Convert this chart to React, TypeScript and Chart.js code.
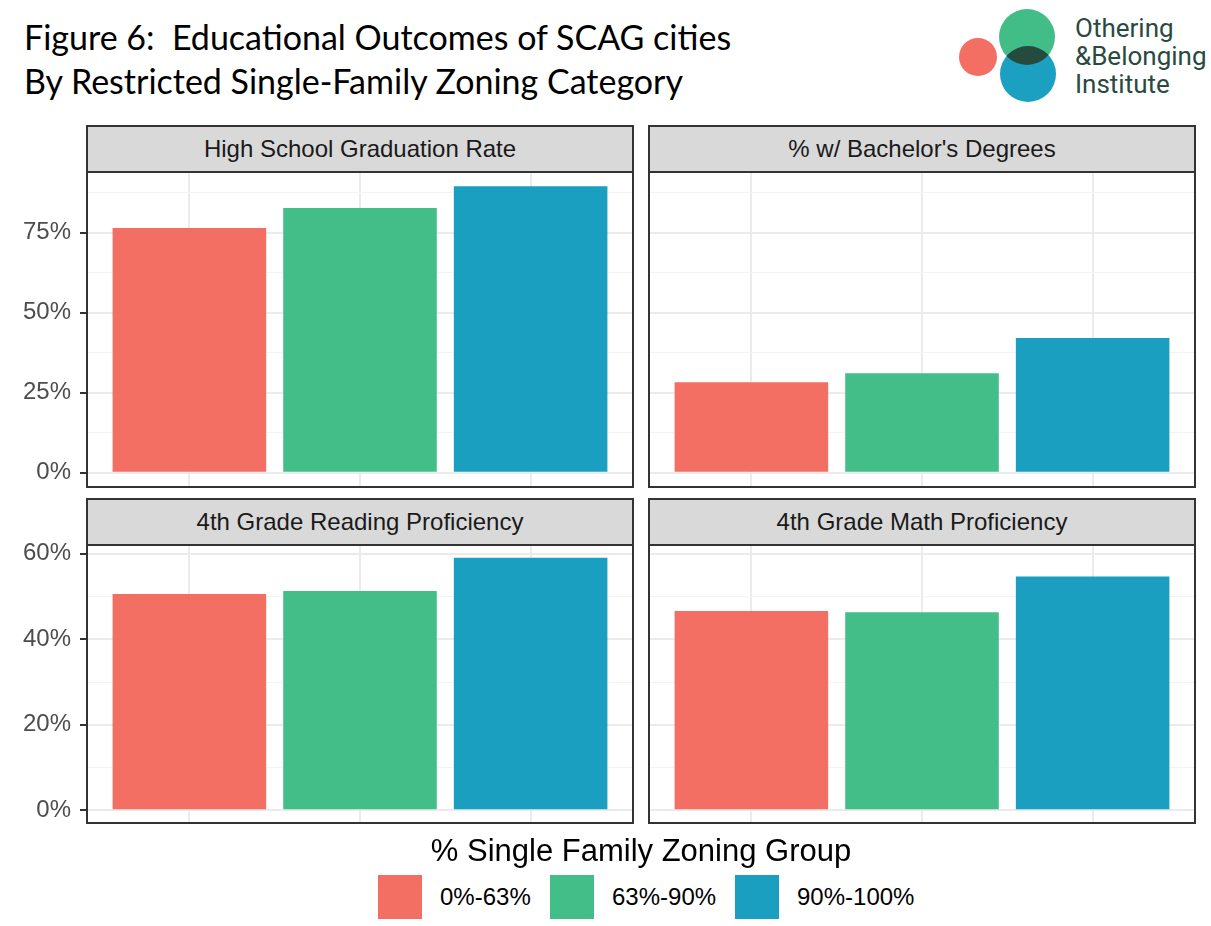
import React, { useEffect, useRef } from 'react';
import { Chart, registerables } from 'chart.js';
Chart.register(...registerables);

// ---------- data ----------
const groups = ['0%-63%', '63%-90%', '90%-100%'];
const groupColors = ['#F36E63', '#43BE88', '#1A9FC0'];
const positions = [1, 2, 3];

const hsGraduation = [76.5, 82.7, 89.5];
const bachelors = [28.3, 31.1, 42.1];
const reading = [50.6, 51.3, 59.1];
const math = [46.6, 46.3, 54.7];

const topRowTicks = [0, 25, 50, 75];
const bottomRowTicks = [0, 20, 40, 60];

const panelTitles = [
  'High School Graduation Rate',
  "% w/ Bachelor's Degrees",
  '4th Grade Reading Proficiency',
  '4th Grade Math Proficiency',
];

const titleLines = ['Figure 6:  Educational Outcomes of SCAG cities', 'By Restricted Single-Family Zoning Category'];
const legendTitle = '% Single Family Zoning Group';
const logoLines = ['Othering', '&Belonging', 'Institute'];

// ---------- helpers ----------
const PAD = 30;
const AXIS_FONT = '"Liberation Sans", Arial, sans-serif';

const panelBorder = {
  id: 'panelBorder',
  afterDraw(chart: any) {
    const { ctx, chartArea: a } = chart;
    ctx.save();
    ctx.strokeStyle = '#333333';
    ctx.lineWidth = 2;
    ctx.strokeRect(a.left, a.top, a.right - a.left, a.bottom - a.top);
    ctx.restore();
  },
};

type PanelProps = {
  title: string;
  values: number[];
  majorTicks: number[];
  rowMax: number;
  showY: boolean;
  plotLeft: number;
  plotRight: number;
  stripTop: number;
  plotTop: number;
  plotBottom: number;
};

function Panel(p: PanelProps) {
  const ref = useRef<HTMLCanvasElement>(null);
  const canvasLeft = p.showY ? 0 : p.plotLeft - 3;
  const canvasTop = p.plotTop - PAD;
  const w = p.plotRight + 3 - canvasLeft;
  const h = p.plotBottom - p.plotTop + PAD * 2;

  useEffect(() => {
    if (!ref.current) return;
    const step = p.majorTicks[1] - p.majorTicks[0];
    const min = -p.rowMax * 0.05;
    const max = p.rowMax * 1.05;
    const all: number[] = [];
    for (let v = 0; v <= max; v += step / 2) all.push(v);
    const majorSet = new Set(p.majorTicks);
    const isMajor = (ctx: any) => ctx.tick && majorSet.has(ctx.tick.value);
    const axisWidth = p.plotLeft - canvasLeft - (p.showY ? 0 : 3);

    const chart = new Chart(ref.current, {
      type: 'bar',
      data: {
        datasets: [
          {
            label: p.title,
            data: positions.map((x, i) => ({ x, y: p.values[i] })),
            backgroundColor: groupColors,
            barPercentage: 0.9,
            categoryPercentage: 1,
            borderWidth: 0,
          },
        ],
      },
      options: {
        animation: false,
        responsive: false,
        maintainAspectRatio: false,
        layout: { padding: { top: PAD, bottom: PAD, left: p.showY ? 0 : 3, right: 3 } },
        plugins: { legend: { display: false }, tooltip: { enabled: false } },
        scales: {
          x: {
            type: 'linear',
            min: 0.4,
            max: 3.6,
            offset: false,
            afterBuildTicks: (s: any) => {
              s.ticks = positions.map((v) => ({ value: v }));
            },
            afterFit: (s: any) => {
              s.height = 0;
            },
            ticks: { display: false },
            border: { display: false },
            grid: { color: '#ebebeb', lineWidth: 2, drawTicks: false, offset: false },
          },
          y: {
            type: 'linear',
            min,
            max,
            afterBuildTicks: (s: any) => {
              s.ticks = all.map((v) => ({ value: v }));
            },
            afterFit: (s: any) => {
              s.width = axisWidth;
            },
            ticks: {
              display: p.showY,
              autoSkip: false,
              padding: 9,
              color: '#4d4d4d',
              font: { family: AXIS_FONT, size: 24 },
              callback: (v: any) => (majorSet.has(Number(v)) ? `${v}%` : ''),
            },
            border: { display: false },
            grid: {
              color: (ctx: any) => (isMajor(ctx) ? '#ebebeb' : '#f3f3f3'),
              lineWidth: (ctx: any) => (isMajor(ctx) ? 2 : 1),
              drawTicks: p.showY,
              tickLength: 7,
              tickWidth: 2,
              tickColor: (ctx: any) => (isMajor(ctx) ? '#333333' : 'rgba(0,0,0,0)'),
            },
          },
        },
      } as any,
      plugins: [panelBorder],
    });
    return () => chart.destroy();
  }, []);

  return (
    <>
      <canvas
        ref={ref}
        width={w}
        height={h}
        style={{ position: 'absolute', left: canvasLeft, top: canvasTop, width: w, height: h }}
      />
      <div
        style={{
          position: 'absolute',
          left: p.plotLeft - 1,
          top: p.stripTop,
          width: p.plotRight - p.plotLeft + 2,
          height: p.plotTop - p.stripTop + 1,
          boxSizing: 'border-box',
          border: '2px solid #333333',
          background: '#d9d9d9',
          color: '#1a1a1a',
          fontFamily: AXIS_FONT,
          fontSize: 24,
          display: 'flex',
          alignItems: 'center',
          justifyContent: 'center',
          zIndex: 2,
        }}
      >
        {p.title}
      </div>
    </>
  );
}

export default function App() {
  const topMax = Math.max(...hsGraduation, ...bachelors);
  const bottomMax = Math.max(...reading, ...math);
  const cols = [
    { l: 87, r: 633 },
    { l: 649, r: 1195 },
  ];
  const rows = [
    { strip: 125, top: 172, bottom: 487, max: topMax, ticks: topRowTicks },
    { strip: 498, top: 545, bottom: 823, max: bottomMax, ticks: bottomRowTicks },
  ];
  const series = [hsGraduation, bachelors, reading, math];
  const legendSquares = [378, 550, 735];

  return (
    <div
      style={{
        position: 'absolute',
        left: 0,
        top: 0,
        width: 1211,
        height: 926,
        background: '#ffffff',
        overflow: 'hidden',
      }}
    >
      <div
        style={{
          position: 'absolute',
          left: 24,
          top: 15,
          fontFamily: 'Lato, "Open Sans", sans-serif',
          fontSize: 34,
          lineHeight: '44px',
          color: '#000',
          whiteSpace: 'pre',
        }}
      >
        {titleLines.map((t, i) => (
          <div key={i}>{t}</div>
        ))}
      </div>

      <svg style={{ position: 'absolute', left: 940, top: 0 }} width={271} height={110}>
        <defs>
          <clipPath id="greenClip">
            <circle cx={87} cy={37} r={28} />
          </clipPath>
        </defs>
        <circle cx={38} cy={57} r={19} fill="#F36E63" />
        <circle cx={87} cy={37} r={28} fill="#43BD87" />
        <circle cx={88} cy={74} r={28} fill="#1CA0C1" />
        <circle cx={88} cy={74} r={28} fill="#264A3E" clipPath="url(#greenClip)" />
        {logoLines.map((t, i) => (
          <text
            key={i}
            x={135}
            y={37 + i * 28}
            fontFamily="Roboto, 'Noto Sans', sans-serif"
            fontSize={26}
            fill="#2A4A3F"
          >
            {t}
          </text>
        ))}
      </svg>

      {rows.map((row, ri) =>
        cols.map((col, ci) => (
          <Panel
            key={`${ri}-${ci}`}
            title={panelTitles[ri * 2 + ci]}
            values={series[ri * 2 + ci]}
            majorTicks={row.ticks}
            rowMax={row.max}
            showY={ci === 0}
            plotLeft={col.l}
            plotRight={col.r}
            stripTop={row.strip}
            plotTop={row.top}
            plotBottom={row.bottom}
          />
        ))
      )}

      <div
        style={{
          position: 'absolute',
          left: 0,
          width: 1282,
          top: 833,
          textAlign: 'center',
          fontFamily: AXIS_FONT,
          fontSize: 31,
          color: '#000',
        }}
      >
        {legendTitle}
      </div>
      {groups.map((g, i) => (
        <React.Fragment key={g}>
          <div
            style={{
              position: 'absolute',
              left: legendSquares[i],
              top: 875,
              width: 44,
              height: 44,
              background: groupColors[i],
            }}
          />
          <div
            style={{
              position: 'absolute',
              left: legendSquares[i] + 62,
              top: 875,
              height: 44,
              lineHeight: '44px',
              fontFamily: AXIS_FONT,
              fontSize: 24,
              color: '#000',
              whiteSpace: 'nowrap',
            }}
          >
            {g}
          </div>
        </React.Fragment>
      ))}
    </div>
  );
}
